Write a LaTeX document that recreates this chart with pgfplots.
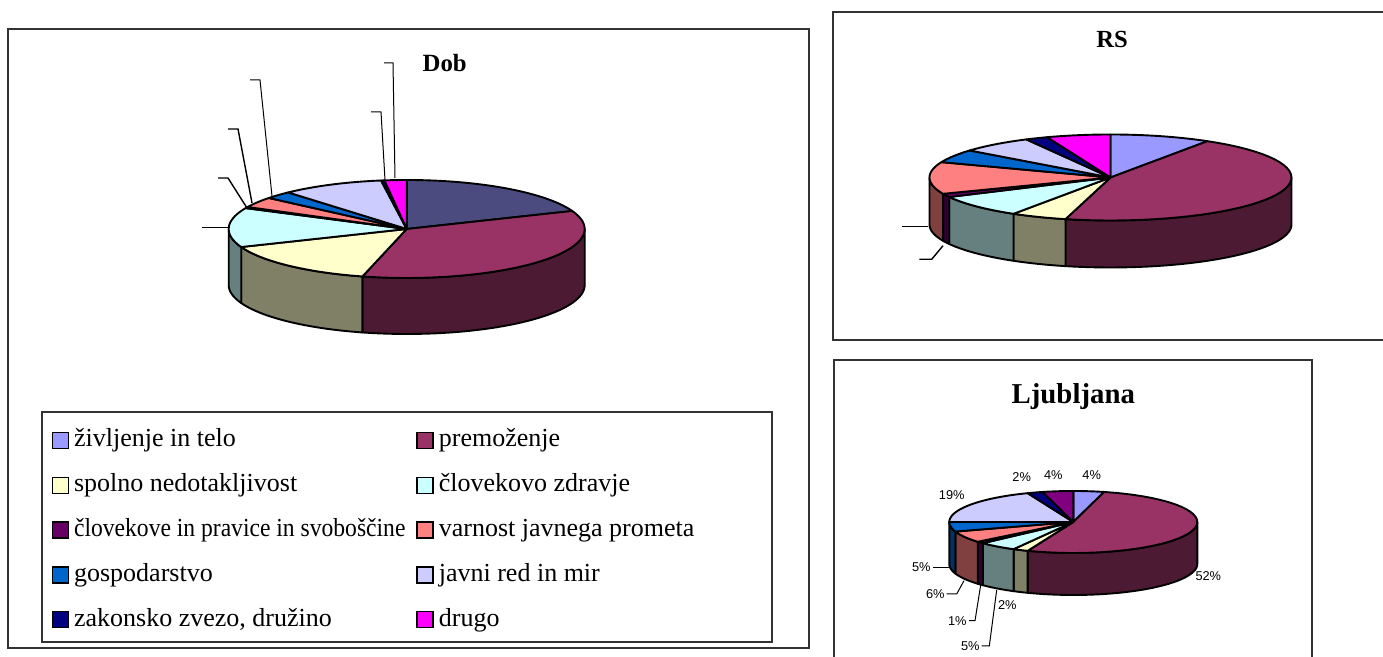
\documentclass[border=0pt]{standalone}
\usepackage{pgfplots}
\usepackage{pgfplotstable}
\pgfplotsset{compat=1.18}
\usepackage{fontspec}
\setmainfont{Liberation Serif}
\newfontfamily\arial{Liberation Sans}

\definecolor{dobA}{HTML}{4B4B80}
\definecolor{tA}{HTML}{9999FF}\definecolor{sA}{HTML}{4D4D80}
\definecolor{tB}{HTML}{993366}\definecolor{sB}{HTML}{4C1A33}
\definecolor{tC}{HTML}{FFFFCC}\definecolor{sC}{HTML}{808066}
\definecolor{tD}{HTML}{CCFFFF}\definecolor{sD}{HTML}{668080}
\definecolor{tE}{HTML}{660066}\definecolor{sE}{HTML}{330033}
\definecolor{tF}{HTML}{FF8080}\definecolor{sF}{HTML}{804040}
\definecolor{tG}{HTML}{0066CC}\definecolor{sG}{HTML}{003366}
\definecolor{tH}{HTML}{CCCCFF}\definecolor{sH}{HTML}{666680}
\definecolor{tI}{HTML}{000080}\definecolor{sI}{HTML}{000040}
\definecolor{tJ}{HTML}{FF00FF}\definecolor{sJ}{HTML}{800080}
\definecolor{tK}{HTML}{800080}\definecolor{sK}{HTML}{400040}
\definecolor{frame}{HTML}{333333}

% shares in percent, clockwise from 12 o'clock
\pgfplotstableread{
share top side
19   dobA sA
35   tB  sB
15   tC  sC
13   tD  sD
0.4  tE  sE
3.5  tF  sF
2.5  tG  sG
9.3  tH  sH
0.3  tI  sI
2    tJ  sJ
}\dobtable
\pgfplotstableread{
share top side
9    tA  sA
45   tB  sB
5    tC  sC
8.5  tD  sD
1.3  tE  sE
12   tF  sF
5    tG  sG
6.5  tH  sH
2    tI  sI
5.7  tJ  sJ
}\rstable
\pgfplotstableread{
share top side
4    tA  sA
52   tB  sB
2    tC  sC
5    tD  sD
1    tE  sE
6    tF  sF
5    tG  sG
19   tH  sH
2    tI  sI
4    tK  sK
}\ljtable

\pgfplotsset{sqleg/.style={legend image code/.code={\draw[fill=#1,draw=black,line width=0.7pt] (0pt,-4pt) rectangle (8pt,4pt);}}}

% visible side walls
\newcommand\pieside[6]{%
 \pgfplotstablegetrowsof{#1}%
 \pgfmathtruncatemacro\pien{\pgfplotsretval-1}%
 \gdef\pieacc{0}%
 \pgfplotsforeachungrouped \pieI in {0,...,\pien}{%
   \pgfplotstablegetelem{\pieI}{share}\of{#1}\let\pieV\pgfplotsretval
   \pgfplotstablegetelem{\pieI}{side}\of{#1}\let\pieC\pgfplotsretval
   \pgfmathsetmacro\pieA{\pieacc}%
   \pgfmathsetmacro\pieB{\pieacc+3.6*\pieV}%
   \pgfmathsetmacro\pieSA{max(\pieA,90)}%
   \pgfmathsetmacro\pieSB{min(\pieB,270)}%
   \pgfmathtruncatemacro\pieOK{\pieSB>\pieSA+0.01 ? 1 : 0}%
   \ifnum\pieOK=1
     \edef\piecmd{\noexpand\addplot[forget plot, fill=\pieC, draw=black, line width=0.95pt, line join=round, samples at={0,1,...,40,100,101,...,140}]
       ({#2+#4*sin(ifthenelse(x<50,\pieSA+(\pieSB-\pieSA)*x/40,\pieSB-(\pieSB-\pieSA)*(x-100)/40))},
        {#3+#5*cos(ifthenelse(x<50,\pieSA+(\pieSB-\pieSA)*x/40,\pieSB-(\pieSB-\pieSA)*(x-100)/40))-ifthenelse(x<50,0,#6)}) -- cycle;}%
     \piecmd
   \fi
   \xdef\pieacc{\pieB}%
 }%
}
% top faces
\newcommand\pietop[5]{%
 \pgfplotstablegetrowsof{#1}%
 \pgfmathtruncatemacro\pien{\pgfplotsretval-1}%
 \gdef\pieacc{0}%
 \pgfplotsforeachungrouped \pieI in {0,...,\pien}{%
   \pgfplotstablegetelem{\pieI}{share}\of{#1}\let\pieV\pgfplotsretval
   \pgfplotstablegetelem{\pieI}{top}\of{#1}\let\pieC\pgfplotsretval
   \pgfmathsetmacro\pieA{\pieacc}%
   \pgfmathsetmacro\pieB{\pieacc+3.6*\pieV}%
   \edef\piecmd{\noexpand\addplot[forget plot, fill=\pieC, draw=black, line width=0.95pt, line join=round, samples at={0,1,...,40}]
       ({#2+#4*sin(\pieA+(\pieB-\pieA)*x/40)},{#3+#5*cos(\pieA+(\pieB-\pieA)*x/40)}) -- (axis cs:#2,#3) -- cycle;}%
   \piecmd
   \xdef\pieacc{\pieB}%
 }%
}

\begin{document}
\begin{tikzpicture}
\begin{axis}[
  hide axis, scale only axis, width=691.5pt, height=328.5pt,
  xmin=0, xmax=1383, ymin=-657, ymax=0,
  legend columns=2,
  legend cell align=left,
  legend style={draw=none, fill=none, at={(axis cs:51.7,-428)}, anchor=north west,
     inner sep=0pt, outer sep=0pt,
     font=\fontsize{13}{15}\selectfont, row sep=9.9pt,
     nodes={inner sep=0pt, text height=9.5pt, text depth=3pt},
     /tikz/every odd column/.append style={column sep=2.5pt},
     /tikz/every even column/.append style={column sep=5.5pt}},
]
% frames
\draw[frame, line width=0.6pt] (axis cs:8,-29) rectangle (axis cs:809,-648);
\draw[frame, line width=0.6pt] (axis cs:42,-412) rectangle (axis cs:772,-642);
\draw[frame, line width=0.6pt] (axis cs:1383,-12) -- (axis cs:833,-12) -- (axis cs:833,-340) -- (axis cs:1383,-340);
\draw[frame, line width=0.6pt] (axis cs:834,-657) -- (axis cs:834,-360) -- (axis cs:1312,-360) -- (axis cs:1312,-657);

% Dob
\pieside{\dobtable}{406.7}{-229}{178}{49}{56}
\pietop{\dobtable}{406.7}{-229}{178}{49}
% RS
\pieside{\rstable}{1110.5}{-177.5}{181}{43}{47}
\pietop{\rstable}{1110.5}{-177.5}{181}{43}
% Ljubljana
\pieside{\ljtable}{1073.3}{-522}{124}{31}{42}
\pietop{\ljtable}{1073.3}{-522}{124}{31}

% leader lines
\draw[black, line width=0.5pt] (axis cs:230,-228) -- (axis cs:202,-228);
\draw[black, line width=0.7pt] (axis cs:247,-208) -- (axis cs:228,-178) -- (axis cs:218,-178);
\draw[black, line width=0.7pt] (axis cs:252,-203) -- (axis cs:238,-129) -- (axis cs:228,-129);
\draw[black, line width=0.5pt] (axis cs:272,-196) -- (axis cs:260,-80) -- (axis cs:250,-80);
\draw[black, line width=0.5pt] (axis cs:385,-180) -- (axis cs:381,-112) -- (axis cs:371,-112);
\draw[black, line width=0.5pt] (axis cs:395,-178) -- (axis cs:393,-63) -- (axis cs:384,-63);
\draw[black, line width=0.5pt] (axis cs:928,-226.7) -- (axis cs:902,-226.7);
\draw[black, line width=0.7pt] (axis cs:943,-245.7) -- (axis cs:931.7,-259.3) -- (axis cs:919.3,-259.3);
\draw[black, line width=0.5pt] (axis cs:949.3,-567.3) -- (axis cs:933.3,-567.3);
\draw[black, line width=0.5pt] (axis cs:964,-580.7) -- (axis cs:956.7,-594) -- (axis cs:946.7,-594);
\draw[black, line width=0.5pt] (axis cs:980.7,-585) -- (axis cs:975,-620.7) -- (axis cs:969,-620.7);
\draw[black, line width=0.5pt] (axis cs:996.7,-590) -- (axis cs:989.3,-646) -- (axis cs:981.7,-646);

% titles
\node[anchor=base, font=\bfseries\fontsize{12.4}{14}\selectfont] at (axis cs:444.7,-71.7) {Dob};
\node[anchor=base, font=\bfseries\fontsize{12.3}{14}\selectfont] at (axis cs:1112,-47.3) {RS};
\node[anchor=base, font=\bfseries\fontsize{14.4}{16}\selectfont] at (axis cs:1073.3,-403.3) {Ljubljana};

% Ljubljana data labels
\begin{scope}[every node/.style={font=\arial\fontsize{6.4}{7}\selectfont, inner sep=0.5pt}]
\node[anchor=east] at (axis cs:932,-567.3) {5\%};
\node[anchor=east] at (axis cs:946,-594) {6\%};
\node[anchor=east] at (axis cs:968,-620.7) {1\%};
\node[anchor=east] at (axis cs:981,-646) {5\%};
\node at (axis cs:1007.3,-605) {2\%};
\node at (axis cs:1208.3,-576) {52\%};
\node at (axis cs:951.7,-495) {19\%};
\node at (axis cs:1021.7,-476.7) {2\%};
\node at (axis cs:1053.3,-475) {4\%};
\node at (axis cs:1091.7,-475) {4\%};
\end{scope}

% legend
\addlegendimage{sqleg=tA}\addlegendentry{življenje in telo}
\addlegendimage{sqleg=tB}\addlegendentry{premoženje}
\addlegendimage{sqleg=tC}\addlegendentry{spolno nedotakljivost}
\addlegendimage{sqleg=tD}\addlegendentry{človekovo zdravje}
\addlegendimage{sqleg=tE}\addlegendentry{\scalebox{0.907}[1]{človekove in pravice in svoboščine}}
\addlegendimage{sqleg=tF}\addlegendentry{varnost javnega prometa}
\addlegendimage{sqleg=tG}\addlegendentry{gospodarstvo}
\addlegendimage{sqleg=tH}\addlegendentry{javni red in mir}
\addlegendimage{sqleg=tI}\addlegendentry{zakonsko zvezo, družino}
\addlegendimage{sqleg=tJ}\addlegendentry{drugo}
\end{axis}
\pgfresetboundingbox
\useasboundingbox (current axis.south west) rectangle (current axis.north east);
\end{tikzpicture}
\end{document}
